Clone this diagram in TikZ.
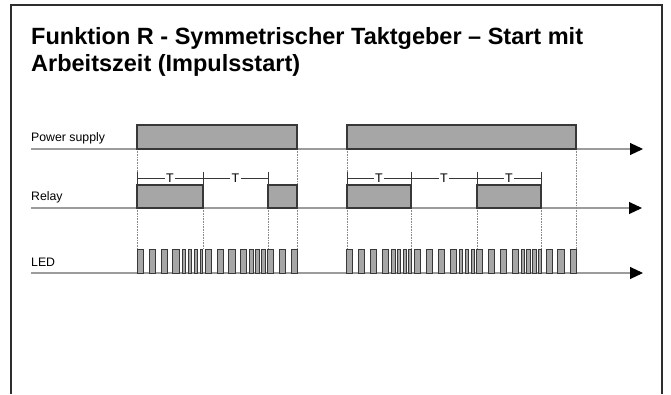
\documentclass[tikz,border=0pt]{standalone}
\usepackage{fontspec}
\setmainfont{Liberation Sans}
\usetikzlibrary{arrows.meta}
\definecolor{boxgray}{HTML}{A6A6A6}
\definecolor{darkline}{HTML}{383838}
\definecolor{axisgray}{HTML}{9C9C9C}
\definecolor{dotgray}{HTML}{8A8A8A}
\definecolor{framecol}{HTML}{2E2E2E}
\begin{document}
\begin{tikzpicture}[x=1pt,y=-1pt,
  frameline/.style={draw=framecol,line width=1.4pt},
  titletext/.style={font=\bfseries\fontsize{23.5}{26}\selectfont,inner sep=0pt,anchor=base west},
  lbl/.style={font=\fontsize{12.3}{13}\selectfont,inner sep=0pt,anchor=base west},
  axisline/.style={draw=axisgray,line width=1.1pt,-{Triangle[length=13pt,width=12pt,color=black]}},
  sigbox/.style={fill=boxgray,draw=darkline,line width=1.1pt},
  pulse/.style={fill=boxgray,draw=darkline,line width=0.9pt},
  tline/.style={draw=darkline,line width=0.9pt},
  tlabel/.style={font=\fontsize{12.5}{13}\selectfont,fill=white,inner xsep=1.5pt,inner ysep=0pt},
  dotline/.style={draw=dotgray,line width=0.8pt,dash pattern=on 0.8pt off 0.8pt}]
\useasboundingbox (0,0) rectangle (671,394);
% frame
\coordinate (fbl) at (11,394);
\coordinate (ftl) at (11,5);
\coordinate (ftr) at (662,5);
\coordinate (fbr) at (662,394);
\draw[frameline] (fbl) -- (ftl) -- (ftr) -- (fbr);
% title
\node[titletext] (title1) at (31,44) {Funktion R - Symmetrischer Taktgeber – Start mit};
\node[titletext] (title2) at (31,71) {Arbeitszeit (Impulsstart)};
% labels
\node[lbl] (lps) at (31,141.5) {Power supply};
\node[lbl] (lrel) at (31,200) {Relay};
\node[lbl] (lled) at (31,266) {LED};
% axes
\coordinate (psA) at (31,149); \coordinate (psB) at (643,149);
\coordinate (reA) at (31,208); \coordinate (reB) at (642,208);
\coordinate (leA) at (31,273); \coordinate (leB) at (643,273);
\draw[axisline] (psA) -- (psB);
\draw[axisline] (reA) -- (reB);
\draw[axisline] (leA) -- (leB);
% dotted lines
\foreach \x/\a/\b in {137/149/172,137/208/249,203/208/249,268/208/249,297/149/185,297/208/249,
                      347/149/172,347/208/249,411/208/249,477/208/249,541/208/249,576/149/249}
  \draw[dotline] (\x,\a) -- (\x,\b);
% power supply
\draw[sigbox] (137,125) rectangle (297,149);
\draw[sigbox] (347,125) rectangle (576,149);
% relay
\draw[sigbox] (137,185) rectangle (203,208);
\draw[sigbox] (268,185) rectangle (297,208);
\draw[sigbox] (347,185) rectangle (411,208);
\draw[sigbox] (477,185) rectangle (541,208);
% T markers
\foreach \x in {137,203,268,347,411,477,541}
  \draw[tline] (\x,172) -- (\x,185);
\foreach \a/\b in {137/203,203/268,347/411,411/477,477/541}
  \draw[tline] (\a,178.5) -- node[tlabel] {T} (\b,178.5);
% LED pulses
\foreach \x/\w in {137.3/6,149.3/6,161/6,172.7/6.6,182/3.7,188/3.7,194/3.7,200/2.7,
                   205/6.3,217/6,228.3/6.7,240.3/6.4,249.7/3.3,255.7/3.6,261.7/3.3,
                   267.3/6.4,279.3/6,291.3/6,
                   346/6.7,358/6.3,370/6.3,382/6.7,391.3/3.7,397.3/3.4,403.3/3.4,408.3/3,
                   414.3/6.4,426.3/6,438.3/6.4,450.3/6.4,459.3/3.4,465.3/3.4,471.3/3.4,
                   476/6.7,488/6.3,500/6,512/6.3,521/3.3,526.7/3.3,532.7/3.3,538/3,
                   546/6.7,557.7/6.6,570/6}
  \draw[pulse] (\x,249) rectangle ++(\w,24);
\end{tikzpicture}
\end{document}
